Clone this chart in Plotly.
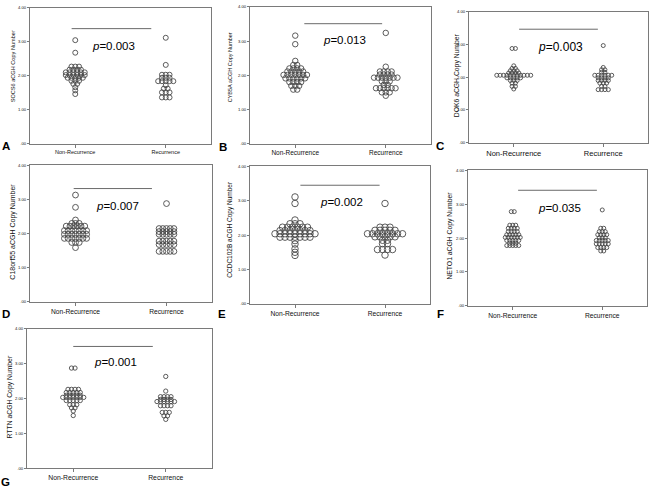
import plotly.graph_objects as go

W, H = 654, 491

categories = ["Non-Recurrence", "Recurrence"]
y_ticks = [0, 1, 2, 3, 4]
y_tick_labels = [".00", "1.00", "2.00", "3.00", "4.00"]

genes = ["SOCS6", "CYB5A", "DOK6", "C18orf55", "CCDC102B", "NETO1", "RTTN"]
panel_letters = ["A", "B", "C", "D", "E", "F", "G"]
p_values = ["0.003", "0.013", "0.003", "0.007", "0.002", "0.035", "0.001"]

# copy number values (one entry per patient)
SOCS6_non = [3.05, 2.68, 2.27, 2.27, 2.27, 2.18, 2.18, 2.18, 2.18,
             2.10, 2.10, 2.10, 2.10, 2.10, 2.10, 2.02, 2.02, 2.02, 2.02, 2.02, 2.02,
             1.94, 1.94, 1.94, 1.94, 1.94, 1.85, 1.85, 1.85, 1.76, 1.76, 1.66, 1.57, 1.46]
SOCS6_rec = [3.12, 2.32, 2.03, 2.03, 2.03, 1.94, 1.94, 1.94,
             1.84, 1.84, 1.84, 1.84, 1.84, 1.72, 1.62, 1.62, 1.51, 1.51, 1.51,
             1.36, 1.36, 1.36]

CYB5A_non = [3.16, 2.91, 2.42, 2.30, 2.30, 2.20, 2.20, 2.20, 2.20,
             2.11, 2.11, 2.11, 2.11, 2.11, 2.01, 2.01, 2.01, 2.01, 2.01, 2.01, 2.01,
             1.91, 1.91, 1.91, 1.91, 1.91, 1.91, 1.80, 1.80, 1.80, 1.80,
             1.69, 1.69, 1.69, 1.58, 1.58]
CYB5A_rec = [3.24, 2.25, 2.11, 2.11, 2.11, 2.11, 2.02, 2.02, 2.02, 2.02,
             1.93, 1.93, 1.93, 1.93, 1.93, 1.93, 1.93, 1.82, 1.82, 1.82, 1.72, 1.72,
             1.62, 1.62, 1.62, 1.62, 1.62, 1.62, 1.50, 1.50, 1.50, 1.40]

DOK6_non = [2.88, 2.88, 2.35, 2.27, 2.27, 2.20, 2.20, 2.20, 2.13, 2.13, 2.13, 2.13,
            2.06, 2.06, 2.06, 2.06, 2.06, 2.06, 2.06, 2.06, 2.06, 2.06, 2.06,
            1.98, 1.98, 1.98, 1.98, 1.98, 1.90, 1.90, 1.90, 1.82, 1.82, 1.72, 1.72, 1.64]
DOK6_rec = [2.97, 2.30, 2.23, 2.23, 2.15, 2.15, 2.06, 2.06, 2.06, 2.06, 2.06, 2.06,
            1.98, 1.98, 1.98, 1.98, 1.90, 1.90, 1.90, 1.90, 1.82, 1.82, 1.82,
            1.72, 1.72, 1.62, 1.62, 1.62, 1.62]

C18orf55_non = [3.13, 2.77, 2.40, 2.30, 2.30, 2.30, 2.22, 2.22, 2.22, 2.22, 2.22, 2.22,
                2.09, 2.09, 2.09, 2.09, 2.09, 2.09, 2.09, 1.98, 1.98, 1.98, 1.98, 1.98, 1.98, 1.98,
                1.86, 1.86, 1.86, 1.86, 1.86, 1.86, 1.86, 1.74, 1.74, 1.74, 1.59]
C18orf55_rec = [2.88, 2.15, 2.15, 2.15, 2.15, 2.15, 2.06, 2.06, 2.06, 2.06, 2.06,
                1.98, 1.98, 1.98, 1.98, 1.98, 1.78, 1.78, 1.78, 1.78, 1.78,
                1.68, 1.68, 1.68, 1.68, 1.68, 1.48, 1.48, 1.48, 1.48, 1.48]

CCDC102B_non = [3.11, 2.92, 2.44, 2.33, 2.33, 2.33, 2.23, 2.23, 2.23, 2.23, 2.23, 2.23,
                2.13, 2.13, 2.13, 2.13, 2.13, 2.13, 2.13,
                2.04, 2.04, 2.04, 2.04, 2.04, 2.04, 2.04, 2.04, 2.04,
                1.94, 1.94, 1.94, 1.94, 1.94, 1.94, 1.94, 1.84, 1.74, 1.60, 1.50, 1.41]
CCDC102B_rec = [2.92, 2.23, 2.23, 2.23, 2.14, 2.14, 2.14, 2.14, 2.14,
                2.04, 2.04, 2.04, 2.04, 2.04, 2.04, 2.04, 2.04, 1.95, 1.95, 1.95, 1.95, 1.95,
                1.85, 1.85, 1.75, 1.75, 1.58, 1.58, 1.58, 1.58, 1.42]

NETO1_non = [2.78, 2.78, 2.38, 2.38, 2.38, 2.29, 2.29, 2.29, 2.29, 2.19, 2.19, 2.19, 2.19,
             2.10, 2.10, 2.10, 2.10, 2.10, 2.02, 2.02, 2.02, 2.02, 2.02, 2.02,
             1.93, 1.93, 1.93, 1.93, 1.93, 1.85, 1.85, 1.85, 1.78, 1.78, 1.78, 1.78, 1.78]
NETO1_rec = [2.83, 2.29, 2.29, 2.19, 2.19, 2.19, 2.10, 2.10, 2.10, 2.10, 2.01, 2.01, 2.01,
             1.93, 1.93, 1.93, 1.93, 1.93, 1.83, 1.83, 1.83, 1.83, 1.83,
             1.72, 1.72, 1.72, 1.72, 1.62, 1.62]

RTTN_non = [2.87, 2.87, 2.26, 2.26, 2.26, 2.26, 2.17, 2.17, 2.17, 2.17, 2.17,
            2.09, 2.09, 2.09, 2.09, 2.09, 2.03, 2.03, 2.03, 2.03, 2.03, 2.03, 2.03,
            1.94, 1.94, 1.94, 1.94, 1.94, 1.82, 1.82, 1.82, 1.73, 1.73, 1.64, 1.51]
RTTN_rec = [2.63, 2.21, 2.05, 2.05, 2.05, 2.05, 1.97, 1.97, 1.97, 1.97,
            1.91, 1.91, 1.91, 1.91, 1.91, 1.91, 1.79, 1.79, 1.79, 1.79,
            1.60, 1.60, 1.60, 1.50, 1.50, 1.40]

data = [(SOCS6_non, SOCS6_rec), (CYB5A_non, CYB5A_rec), (DOK6_non, DOK6_rec),
        (C18orf55_non, C18orf55_rec), (CCDC102B_non, CCDC102B_rec),
        (NETO1_non, NETO1_rec), (RTTN_non, RTTN_rec)]

# layout per panel: box (x0, y0, x1, y1 in px), marker size, dot spacing px,
# category font, title font, title x/y px, bar y, bar x fractions, p-text x frac / y, letter px
panels = [
    dict(box=(30, 5, 211, 142), ms=5.0, sp=3.8, cf=5.5, tf=5.6, tx=13, ty=64,
         ly=3.39, lx=(0.23, 0.67), px=0.46, py=2.89, pf=11.5, let=(6, 144)),
    dict(box=(250, 4, 431, 142), ms=5.5, sp=3.9, cf=6.5, tf=5.5, tx=230, ty=65,
         ly=3.51, lx=(0.30, 0.73), px=0.52, py=3.03, pf=11.5, let=(223, 145)),
    dict(box=(469, 9, 648, 141), ms=4.0, sp=3.4, cf=7.5, tf=6.8, tx=457, ty=73,
         ly=3.47, lx=(0.28, 0.72), px=0.51, py=2.93, pf=12, let=(440, 144)),
    dict(box=(30, 164, 212, 302), ms=5.8, sp=3.7, cf=6.7, tf=7.0, tx=13, ty=231,
         ly=3.32, lx=(0.24, 0.67), px=0.48, py=2.81, pf=11.5, let=(6, 314)),
    dict(box=(250, 165, 430, 304), ms=6.5, sp=5.0, cf=6.7, tf=6.5, tx=230, ty=229,
         ly=3.45, lx=(0.28, 0.72), px=0.51, py=2.96, pf=11.5, let=(222, 314)),
    dict(box=(468, 169, 647, 306), ms=4.0, sp=3.0, cf=6.7, tf=6.8, tx=450, ty=235,
         ly=3.41, lx=(0.28, 0.72), px=0.51, py=2.90, pf=11.5, let=(441, 314)),
    dict(box=(27, 329, 212, 470), ms=4.3, sp=3.5, cf=6.8, tf=6.8, tx=9.5, ty=398,
         ly=3.49, lx=(0.25, 0.68), px=0.48, py=3.03, pf=11.5, let=(5, 484)),
]

FONT = "Liberation Sans, Arial, sans-serif"
BOX = "#7a7a7a"
X_RANGE = [0.5, 2.5]


def swarm(values, center, step):
    """Spread equal values side by side around the category position."""
    groups = {}
    for v in values:
        groups.setdefault(v, 0)
        groups[v] += 1
    xs, ys = [], []
    for v, k in groups.items():
        for i in range(k):
            xs.append(center + (i - (k - 1) / 2) * step)
            ys.append(v)
    return xs, ys


fig = go.Figure()
annotations = []
shapes = []
layout_axes = {}

for idx, (p, (non, rec)) in enumerate(zip(panels, data)):
    n = idx + 1
    xa = "x" if n == 1 else f"x{n}"
    ya = "y" if n == 1 else f"y{n}"
    x0, y0, x1, y1 = p["box"]
    px_per_unit = (x1 - x0) / (X_RANGE[1] - X_RANGE[0])
    step = p["sp"] / px_per_unit
    for ci, vals in enumerate((non, rec)):
        xs, ys = swarm(vals, ci + 1, step)
        fig.add_trace(go.Scatter(
            x=xs, y=ys, mode="markers", xaxis=xa, yaxis=ya, showlegend=False,
            marker=dict(symbol="circle-open", size=p["ms"], color="#4a4a4a",
                        line=dict(width=0.9, color="#4a4a4a")),
            hoverinfo="skip"))
    axis_common = dict(showline=True, mirror=True, linecolor=BOX, linewidth=1,
                       showgrid=False, zeroline=False, ticks="outside",
                       tickcolor=BOX, tickwidth=1)
    layout_axes["xaxis" if n == 1 else f"xaxis{n}"] = dict(
        axis_common, domain=[x0 / W, x1 / W], range=X_RANGE, anchor=ya,
        tickvals=[1, 2], ticktext=categories, ticklen=3,
        tickfont=dict(family=FONT, size=p["cf"], color="#111"))
    layout_axes["yaxis" if n == 1 else f"yaxis{n}"] = dict(
        axis_common, domain=[1 - y1 / H, 1 - y0 / H], range=[0, 4], anchor=xa,
        tickvals=y_ticks, ticktext=y_tick_labels, ticklen=2,
        tickfont=dict(family=FONT, size=4.2, color="#111"))
    xd = f"{xa} domain"
    shapes.append(dict(type="line", xref=xd, yref=ya, x0=p["lx"][0], x1=p["lx"][1],
                       y0=p["ly"], y1=p["ly"], line=dict(color="#6a6a6a", width=1)))
    annotations.append(dict(xref=xd, yref=ya, x=p["px"], y=p["py"], showarrow=False,
                            xanchor="center", yanchor="middle",
                            text=f"<i>p</i>={p_values[idx]}",
                            font=dict(family=FONT, size=p["pf"], color="#000")))
    annotations.append(dict(xref="paper", yref="paper", x=p["tx"] / W, y=1 - p["ty"] / H,
                            showarrow=False, textangle=-90, xanchor="center", yanchor="middle",
                            text=f"{genes[idx]} aCGH Copy Number",
                            font=dict(family=FONT, size=p["tf"], color="#111")))
    annotations.append(dict(xref="paper", yref="paper", x=p["let"][0] / W, y=1 - p["let"][1] / H,
                            showarrow=False, xanchor="center", yanchor="middle",
                            text=f"<b>{panel_letters[idx]}</b>",
                            font=dict(family=FONT, size=11.5, color="#000")))

fig.update_layout(
    width=W, height=H, margin=dict(l=0, r=0, t=0, b=0),
    paper_bgcolor="white", plot_bgcolor="white", hovermode=False,
    annotations=annotations, shapes=shapes, **layout_axes)

fig.write_html("out.html", config={"displayModeBar": False, "staticPlot": True},
               post_script="document.body.style.margin='0';document.body.style.overflow='hidden';")
